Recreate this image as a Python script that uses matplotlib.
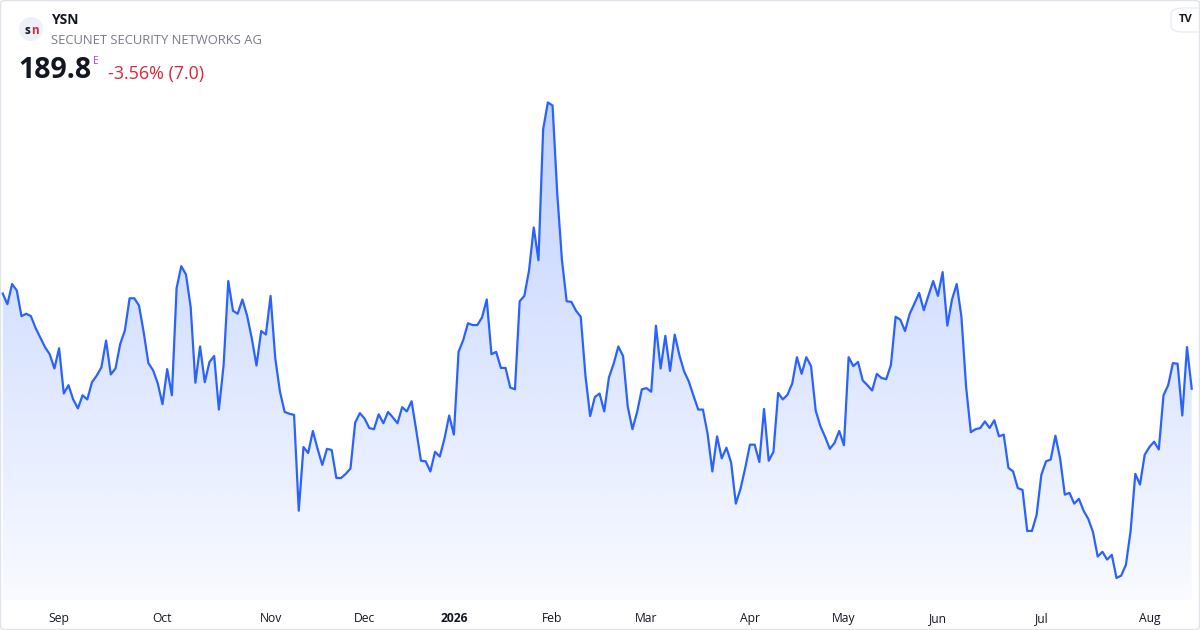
import numpy as np
import pandas as pd
import matplotlib
matplotlib.use('Agg')
import matplotlib.pyplot as plt
from matplotlib.patches import FancyBboxPatch, Ellipse

plt.rcParams['font.family'] = ['Open Sans', 'DejaVu Sans']

# daily closes, XETRA trading days 2025-08-14 .. 2026-08-14
prices = [
    205.8, 204.0, 207.4, 206.3, 202.0, 202.4, 202.0, 200.0, 198.4, 196.8,
    195.6, 193.2, 196.6, 189.0, 190.4, 188.0, 186.5, 188.7, 188.0, 190.9,
    192.0, 193.4, 197.9, 192.2, 193.2, 197.3, 199.6, 205.0, 205.0, 203.8,
    199.3, 194.1, 192.9, 190.7, 187.2, 193.1, 188.7, 206.7, 210.4, 209.0,
    203.5, 190.8, 196.9, 190.9, 194.3, 195.3, 186.3, 193.7, 207.9, 202.9,
    202.4, 204.8, 202.1, 198.3, 193.7, 199.5, 198.9, 205.4, 194.9, 189.3,
    185.9, 185.6, 185.4, 169.3, 180.0, 179.0, 182.7, 179.7, 177.0, 179.7,
    179.5, 174.8, 174.8, 175.5, 176.4, 184.1, 185.7, 184.8, 183.2, 183.0,
    185.5, 184.0, 185.9, 185.0, 184.0, 186.7, 186.0, 187.7, 182.8, 177.7,
    177.6, 175.9, 179.2, 178.4, 181.4, 185.3, 182.1, 196.0, 198.0, 200.8,
    200.5, 200.5, 201.8, 204.8, 195.6, 196.0, 193.3, 193.3, 190.0, 189.7,
    204.5, 205.4, 209.7, 216.9, 211.4, 233.4, 237.9, 237.4, 222.6, 211.4,
    204.5, 204.4, 202.9, 201.9, 192.0, 185.2, 188.4, 189.0, 186.0, 191.7,
    194.0, 196.9, 195.3, 186.8, 183.0, 185.9, 189.7, 189.9, 189.3, 200.4,
    193.2, 198.7, 192.8, 198.9, 195.4, 192.7, 191.0, 188.6, 186.3, 186.3,
    182.2, 175.9, 181.8, 178.1, 179.9, 177.4, 170.5, 173.0, 176.5, 180.4,
    180.4, 177.5, 186.4, 177.7, 179.2, 189.1, 188.0, 188.8, 190.7, 195.1,
    192.3, 195.1, 193.6, 186.1, 183.5, 181.7, 179.7, 180.7, 182.7, 180.3,
    195.1, 193.6, 194.3, 191.2, 190.4, 189.5, 192.3, 191.6, 191.4, 193.8,
    201.9, 201.4, 199.5, 202.4, 204.1, 205.9, 203.0, 205.5, 207.9, 205.4,
    209.4, 200.4, 204.8, 207.4, 201.9, 190.1, 182.5, 183.0, 183.2, 184.3,
    183.2, 184.5, 181.8, 182.1, 176.5, 175.9, 173.1, 172.8, 165.9, 165.9,
    168.6, 175.3, 177.6, 177.9, 181.9, 178.1, 172.0, 172.3, 170.5, 171.3,
    169.3, 167.9, 165.7, 161.6, 162.4, 161.1, 161.9, 158.0, 158.4, 160.2,
    165.9, 175.5, 173.7, 178.7, 180.0, 180.9, 179.6, 188.7, 190.4, 194.1,
    194.0, 185.3, 196.8, 189.8,
]
holidays = ['2025-12-24', '2025-12-25', '2025-12-26', '2025-12-31',
            '2026-01-01', '2026-04-03', '2026-04-06', '2026-05-01']
dates = pd.bdate_range('2025-08-14', '2026-08-14', freq='C', holidays=holidays)
dates = dates[:len(prices)]

ticker = 'YSN'
company = 'SECUNET SECURITY NETWORKS AG'
last_price = '189.8'
change_text = '-3.56% (7.0)'

line_col = '#2962FF'

x = np.arange(len(prices))
y = np.array(prices)

# first trading day of each month -> tick
month_first = [i for i in range(1, len(dates)) if dates[i].month != dates[i - 1].month]
tick_labels = [str(dates[i].year) if dates[i].month == 1 else dates[i].strftime('%b')
               for i in month_first]

fig = plt.figure(figsize=(12, 6.3), dpi=100)
ax = fig.add_axes([0, (630 - 600) / 630, 1, (600 - 90) / 630])

step = 4.7
x0, x1 = -2.7 / step, (len(x) - 1) + (1200 - 1191.7) / step
ybot, ytop = 154.3, 240.0
ax.set_xlim(x0, x1)
ax.set_ylim(ybot, ytop)

# gradient fill under the line
grad = np.zeros((256, 1, 4))
grad[:, 0, 0] = 41 / 255
grad[:, 0, 1] = 98 / 255
grad[:, 0, 2] = 1.0
grad[:, 0, 3] = np.linspace(0.03, 0.30, 256)
poly = ax.fill_between(x, y, ybot, color='none', lw=0)
im = ax.imshow(grad, extent=[x0, x1, ybot, ytop], origin='lower', aspect='auto', zorder=1)
im.set_clip_path(poly.get_paths()[0], transform=ax.transData)

ax.plot(x, y, color=line_col, lw=1.6, zorder=3, solid_joinstyle='round')

ax.set_xticks(month_first)
ax.set_xticklabels(tick_labels)
for lab in ax.get_xticklabels():
    lab.set_fontsize(8.7)
    lab.set_color('#131722')
    if lab.get_text().isdigit():
        lab.set_fontweight('bold')
ax.tick_params(axis='x', length=0, pad=8.6)
ax.set_yticks([])
for s in ax.spines.values():
    s.set_visible(False)
ax.set_facecolor('white')

# header
logo = Ellipse((31 / 1200, 1 - 29 / 630), 24 / 1200, 24 / 630, transform=fig.transFigure,
               facecolor='#eef0f8', edgecolor='none')
fig.add_artist(logo)
fig.text(27.5 / 1200, 1 - 30 / 630, 's', fontsize=8.5, fontweight='bold', color='#131722',
         ha='center', va='center')
fig.text(34.5 / 1200, 1 - 30 / 630, 'n', fontsize=8.5, fontweight='bold', color='#e0243a',
         ha='center', va='center')
fig.text(51 / 1200, 1 - 20 / 630, ticker, fontsize=10, fontweight='bold', color='#131722',
         va='center')
fig.text(51 / 1200, 1 - 40 / 630, company, fontsize=9.4, color='#787b86', va='center')
fig.text(18 / 1200, 1 - 71 / 630, last_price, fontsize=20.5, fontweight='bold',
         color='#131722', va='center')
fig.text(93 / 1200, 1 - 61 / 630, 'E', fontsize=7.5, color='#ab47bc', va='center')
fig.text(108 / 1200, 1 - 74 / 630, change_text, fontsize=12.9, color='#e0243a', va='center')

# TradingView badge
badge = FancyBboxPatch((1171 / 1200, 1 - 32 / 630), 40 / 1200, 24 / 630,
                       boxstyle='round,pad=0,rounding_size=0.01', transform=fig.transFigure,
                       facecolor='white', edgecolor='#e6e8ee', lw=0.8)
fig.add_artist(badge)
fig.text(1186 / 1200, 1 - 20 / 630, 'TV', fontsize=8, fontweight='bold', color='#131722',
         ha='center', va='center')

# outer frame
frame = FancyBboxPatch((0.5 / 1200, 0.5 / 630), 1 - 1 / 1200, 1 - 1 / 630,
                       boxstyle='round,pad=0,rounding_size=0.004', transform=fig.transFigure,
                       facecolor='none', edgecolor='#e0e3eb', lw=1)
fig.add_artist(frame)

fig.savefig('out.png', dpi=100)
